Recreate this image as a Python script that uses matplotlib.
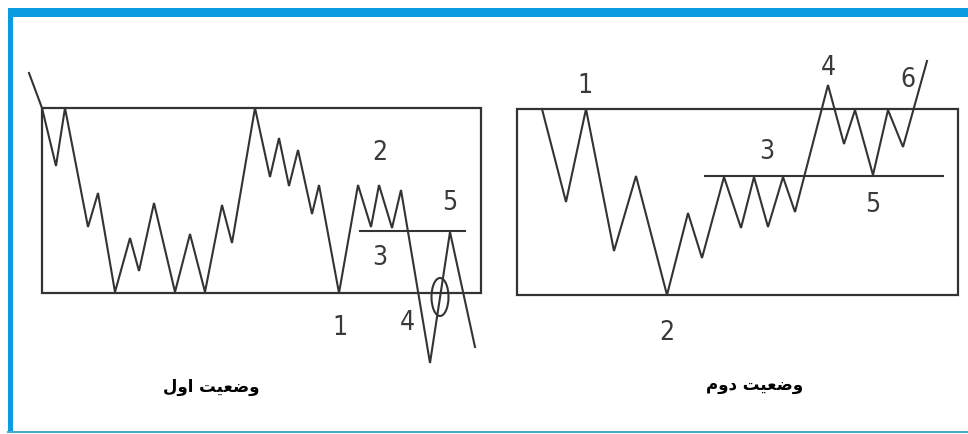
import matplotlib
matplotlib.use("Agg")
import matplotlib.pyplot as plt
from matplotlib.patches import Rectangle, Ellipse

# canvas size in pixels
W, H = 968, 434

# ---- left panel (first situation) ----
left_box = (42, 108, 481, 293)          # x0, y0, x1, y1
left_x = [29, 42, 56, 65, 88, 98, 115, 130, 139, 154, 175, 190, 205, 222,
          232, 255, 270, 279, 289, 298, 312, 319, 339, 358, 371, 379, 392,
          401, 430, 450, 475]
left_y = [73, 108, 166, 108, 227, 193, 292, 238, 271, 203, 292, 234, 292, 205,
          243, 108, 177, 138, 186, 150, 214, 185, 293, 185, 227, 185, 228,
          190, 363, 232, 347]
left_level = (360, 465, 231)            # x0, x1, y
left_circle = (440, 297, 17, 38)
left_nums = ["2", "3", "5", "1", "4"]
left_num_x = [380, 380, 450, 340, 407]
left_num_y = [153, 258, 203, 328, 323]

# ---- right panel (second situation) ----
right_box = (517, 109, 958, 295)
right_x = [542, 566, 586, 614, 636, 667, 688, 702, 724, 741, 754, 768, 783,
           795, 828, 844, 855, 873, 888, 903, 927]
right_y = [109, 202, 109, 251, 176, 295, 213, 258, 177, 228, 177, 227, 177,
           212, 85, 144, 110, 175, 110, 147, 61]
right_level = (705, 943, 176)
right_nums = ["1", "3", "4", "6", "5", "2"]
right_num_x = [585, 767, 828, 908, 873, 667]
right_num_y = [86, 152, 68, 80, 205, 333]

# captions, written as shaped glyphs in visual order
caption_left = "\ufedd\ufeed\ufe8d \ufe96\ufef4\ufecc\ufebf\ufeed"    # وضعیت اول
caption_right = "\ufee1\ufeed\ufea9 \ufe96\ufef4\ufecc\ufebf\ufeed"   # وضعیت دوم

ink = "#333333"
blue = "#0a9be0"

fig = plt.figure(figsize=(W / 100, H / 100), dpi=100)
ax = fig.add_axes([0, 0, 1, 1])
ax.set_xlim(0, W)
ax.set_ylim(H, 0)
ax.axis("off")

# blue frame: top bar, left bar, thin bottom line
ax.add_patch(Rectangle((8, 8), W - 8, 9, color=blue, lw=0))
ax.add_patch(Rectangle((8, 8), 5, H - 10, color=blue, lw=0))
ax.plot([8, W], [432, 432], color="#4aaccc", lw=1.5)


def panel(box, xs, ys, level, nums, nx, ny):
    x0, y0, x1, y1 = box
    ax.add_patch(Rectangle((x0, y0), x1 - x0, y1 - y0, fill=False,
                           ec=ink, lw=1.6))
    ax.plot(xs, ys, color=ink, lw=1.5, solid_joinstyle="miter")
    ax.plot([level[0], level[1]], [level[2], level[2]], color=ink, lw=1.5)
    for t, x, y in zip(nums, nx, ny):
        ax.text(x, y, t, ha="center", va="center", fontsize=19,
                color="#3a3a3a", family="DejaVu Sans",
                fontstretch="condensed", fontweight="light")


panel(left_box, left_x, left_y, left_level, left_nums, left_num_x, left_num_y)
panel(right_box, right_x, right_y, right_level, right_nums, right_num_x,
      right_num_y)

cx, cy, cw, ch = left_circle
ax.add_patch(Ellipse((cx, cy), cw, ch, fill=False, ec=ink, lw=1.5))

ax.text(211, 387, caption_left, ha="center", va="center", fontsize=12,
        fontweight="bold", color="black", family="DejaVu Sans")
ax.text(755, 385, caption_right, ha="center", va="center", fontsize=12,
        fontweight="bold", color="black", family="DejaVu Sans")

fig.savefig("out.png", dpi=100)
